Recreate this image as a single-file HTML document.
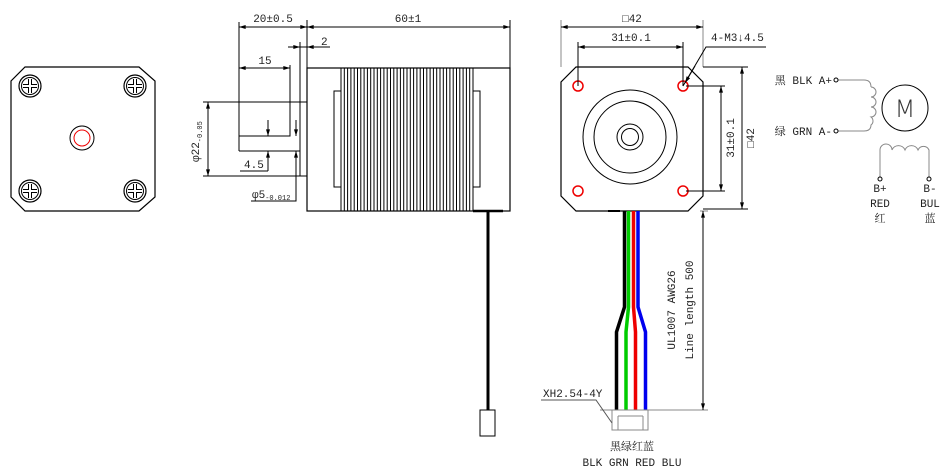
<!DOCTYPE html>
<html><head><meta charset="utf-8"><style>
html,body{margin:0;padding:0;background:#fff;}
svg{display:block;}
text{font-family:"Liberation Mono","Noto Serif CJK SC",monospace;font-size:11px;fill:#222;}
</style></head><body>
<svg width="946" height="474" viewBox="0 0 946 474" xmlns="http://www.w3.org/2000/svg">
<defs>
<marker id="a" viewBox="0 0 10 6" refX="10" refY="3" markerWidth="8" markerHeight="4" orient="auto-start-reverse"><path d="M0,0L10,3L0,6z" fill="#000"/></marker>
<g id="hole"><circle r="11" fill="none" stroke="#000" stroke-width="1.2"/><circle r="8.5" fill="none" stroke="#000"/><path d="M-7,-1.5H-1.5V-7M1.5,-7V-1.5H7M7,1.5H1.5V7M-1.5,7V1.5H-7" fill="none" stroke="#000"/></g>
</defs>
<g fill="none" stroke="#000" stroke-width="1">
<path d="M25,67H139L155,81V197L139,211H25L11,197V81Z" stroke-width="1.2"/>
<use href="#hole" x="30" y="86"/><use href="#hole" x="135" y="86"/><use href="#hole" x="30" y="191"/><use href="#hole" x="135" y="191"/>
<circle cx="82" cy="138" r="12"/><circle cx="82" cy="138" r="8" stroke="#e00"/>

<rect x="307" y="68" width="203" height="143" stroke-width="1.2"/>
<path d="M341,68V211M344.3,68V211M347.6,68V211M350.9,68V211M354.2,68V211M357.5,68V211M360.8,68V211M364.1,68V211M367.4,68V211M370.7,68V211M374,68V211M377.3,68V211M380.6,68V211M383.9,68V211M387.2,68V211M390.5,68V211M393.8,68V211M397.1,68V211M400.4,68V211M403.7,68V211M407,68V211M410.3,68V211M413.6,68V211M416.9,68V211M420.2,68V211M423.5,68V211M426.8,68V211M430.1,68V211M433.4,68V211M436.7,68V211M440,68V211M443.3,68V211M446.6,68V211M449.9,68V211M453.2,68V211M456.5,68V211M459.8,68V211M463.1,68V211M466.4,68V211M469.7,68V211M473,68V211"/>
<rect x="334" y="91" width="7" height="96"/><rect x="473" y="91" width="7" height="96"/>
<path d="M473,211H503" stroke-width="2.5"/>
<path d="M488,211V410" stroke-width="3"/>
<rect x="480" y="410" width="15" height="26"/>
<path d="M300,42V176M203,102H307M203,176H307M239,22V151M239,136H290V65M239,151H300"/>
<path d="M239,27H307" marker-start="url(#a)" marker-end="url(#a)"/>
<path d="M307,27H510" marker-start="url(#a)" marker-end="url(#a)"/>
<path d="M307,20V68M510,20V68"/>
<path d="M288,47H300" marker-end="url(#a)"/><path d="M320,47H307" marker-end="url(#a)"/><path d="M300,47H330"/>
<path d="M239,68H290" marker-start="url(#a)" marker-end="url(#a)"/>
<path d="M208,102V176" marker-start="url(#a)" marker-end="url(#a)"/>
<path d="M268,120V136" marker-end="url(#a)"/><path d="M268,171V151" marker-end="url(#a)"/><path d="M240,171H268"/>
<path d="M296,120V136" marker-end="url(#a)"/><path d="M296,171V151" marker-end="url(#a)"/><path d="M296,151V201H251"/>

<path d="M576,67H688L703,82V196L688,211H576L561,196V82Z" stroke-width="1.2"/>
<circle cx="578" cy="86" r="5" stroke="#e00" stroke-width="1.5"/><circle cx="683" cy="86" r="5" stroke="#e00" stroke-width="1.5"/>
<circle cx="578" cy="191" r="5" stroke="#e00" stroke-width="1.5"/><circle cx="683" cy="191" r="5" stroke="#e00" stroke-width="1.5"/>
<circle cx="630" cy="137" r="47"/><circle cx="630" cy="137" r="36"/><circle cx="630" cy="137" r="13"/><circle cx="630" cy="137" r="8.5"/>
<path d="M561,20V67M703,20V67" stroke="#888"/>
<path d="M561,27H703" marker-start="url(#a)" marker-end="url(#a)"/>
<path d="M578,42V86M683,42V86"/>
<path d="M578,47H683" marker-start="url(#a)" marker-end="url(#a)"/>
<path d="M766,47H706L683,86" /><path d="M695,66L685,83" marker-end="url(#a)"/>
<path d="M686,86H725M686,191H725M703,67H748M703,209H748" stroke="#000"/>
<path d="M721,86V191" marker-start="url(#a)" marker-end="url(#a)"/>
<path d="M742,67V209" marker-start="url(#a)" marker-end="url(#a)"/>
<path d="M608,211H620" stroke-width="2"/>
<path d="M624.5,211V307L616.5,332V410" stroke="#000" stroke-width="3.5"/>
<path d="M628.5,211V307L626,332V410" stroke="#0c0" stroke-width="3.5"/>
<path d="M633.5,211V307L635.5,332V410" stroke="#e00" stroke-width="3.5"/>
<path d="M638,211V307L645.5,332V410" stroke="#00e" stroke-width="3.5"/>
<path d="M612,410H652M612,410V430H648V410M618,416V430M643,416V430M618,416H643" stroke="#888"/>
<path d="M700,211H708M600,410H708" stroke="#888"/>
<path d="M703,211V410" marker-start="url(#a)" marker-end="url(#a)"/>
<path d="M541,400H596L612,423" stroke="#555"/>

<path d="M838,80H864Q871,80 871,87" stroke="#888"/>
<path d="M871,87A5,5 0 0 1 871,97A5,5 0 0 1 871,107A5,5 0 0 1 871,117A5,5 0 0 1 871,125Q871,131 864,131H838" stroke="#888"/>
<circle cx="836" cy="80" r="2"/><circle cx="836" cy="131" r="2"/>
<circle cx="905" cy="108" r="23"/>
<path d="M880,177V150A6,6 0 0 1 892,150A7,7 0 0 1 905,150A7,7 0 0 1 918,150A6,6 0 0 1 929,150V177" stroke="#888"/>
<circle cx="880" cy="179" r="2"/><circle cx="929" cy="179" r="2"/>
</g>
<g>
<text x="273" y="22" text-anchor="middle">20±0.5</text>
<text x="408" y="22" text-anchor="middle">60±1</text>
<text x="321" y="45">2</text>
<text x="265" y="64" text-anchor="middle">15</text>
<text x="244" y="168">4.5</text>
<text x="252" y="198">φ5<tspan font-size="7" dy="2">-0.012</tspan></text>
<text transform="translate(199,162) rotate(-90)" fill="#842">φ22<tspan font-size="7" dy="3">-0.05</tspan></text>
<text x="632" y="22" text-anchor="middle">□42</text>
<text x="631" y="41" text-anchor="middle">31±0.1</text>
<text x="711" y="41">4-M3↓4.5</text>
<text transform="translate(734,138) rotate(-90)" text-anchor="middle">31±0.1</text>
<text transform="translate(754,138) rotate(-90)" text-anchor="middle">□42</text>
<text transform="translate(675,310) rotate(-90)" text-anchor="middle">UL1007 AWG26</text>
<text transform="translate(693,310) rotate(-90)" text-anchor="middle">Line length 500</text>
<text x="543" y="397">XH2.54-4Y</text>
<text x="632" y="450" text-anchor="middle">黑绿红蓝</text>
<text x="632" y="466" text-anchor="middle">BLK GRN RED BLU</text>
<text x="832" y="84" text-anchor="end">黑 BLK A+</text>
<text x="832" y="135" text-anchor="end">绿 GRN A-</text>
<text x="905" y="117" text-anchor="middle" style="font-family:'DejaVu Sans',sans-serif;font-size:24px;font-weight:200;fill:#333">M</text>
<text x="880" y="192" text-anchor="middle">B+</text><text x="880" y="207" text-anchor="middle">RED</text><text x="880" y="222" text-anchor="middle">红</text>
<text x="930" y="192" text-anchor="middle">B-</text><text x="930" y="207" text-anchor="middle">BUL</text><text x="930" y="222" text-anchor="middle">蓝</text>
</g>
</svg>
</body></html>
